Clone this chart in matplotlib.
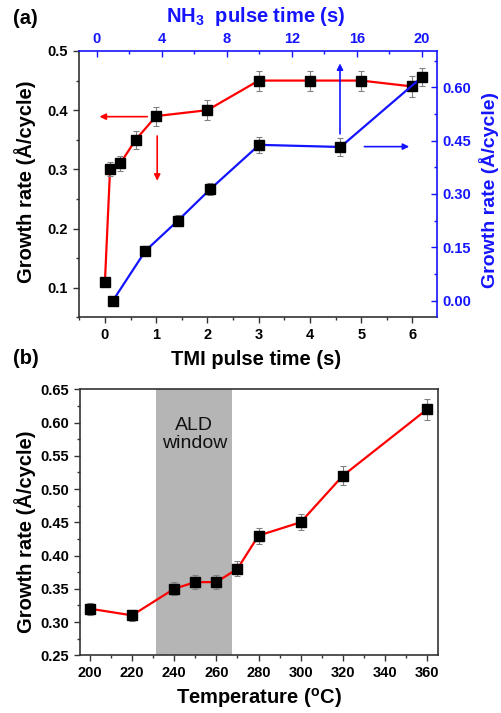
import matplotlib
matplotlib.use('Agg')
from matplotlib import pyplot as plt
from matplotlib.ticker import MultipleLocator

plt.rcParams['font.family'] = ['Liberation Sans', 'DejaVu Sans']
plt.rcParams['font.weight'] = 'bold'
plt.rcParams['mathtext.fontset'] = 'custom'
plt.rcParams['mathtext.rm'] = 'Liberation Sans:bold'
plt.rcParams['mathtext.it'] = 'Liberation Sans:bold'
plt.rcParams['mathtext.bf'] = 'Liberation Sans:bold'

# (a) growth rate vs TMI pulse time (left / bottom axes)
tmi_time = [0.0, 0.1, 0.3, 0.6, 1.0, 2.0, 3.0, 4.0, 5.0, 6.0]
tmi_rate = [0.11, 0.30, 0.31, 0.35, 0.39, 0.40, 0.45, 0.45, 0.45, 0.44]
tmi_err = [0.004, 0.012, 0.013, 0.015, 0.016, 0.017, 0.017, 0.017, 0.017, 0.017]

# (a) growth rate vs NH3 pulse time (right / top axes)
nh3_time = [1, 3, 5, 7, 10, 15, 20]
nh3_rate = [0.0, 0.14, 0.225, 0.314, 0.438, 0.432, 0.628]
nh3_err = [0.005, 0.013, 0.015, 0.018, 0.022, 0.024, 0.025]

# (b) growth rate vs temperature
temp = [200, 220, 240, 250, 260, 270, 280, 300, 320, 360]
temp_rate = [0.32, 0.31, 0.35, 0.36, 0.36, 0.38, 0.43, 0.45, 0.52, 0.62]
temp_err = [0.009, 0.008, 0.01, 0.01, 0.01, 0.011, 0.012, 0.012, 0.014, 0.016]
ald_window = (231.5, 267.5)

# arrows pointing to the axis each curve belongs to: (tail, head)
red_arrows = [((0.88, 0.389), (-0.16, 0.389)), ((1.02, 0.361), (1.02, 0.276))]
blue_arrows = [((14.97, 0.461), (14.97, 0.675)), ((16.3, 0.433), (19.4, 0.433))]

DARK = '#333333'
BLUE = '#1414ff'
TICK_FS = 10.5
LABEL_FS = 14.5


def style_ticks(axis, color, direction):
    axis.tick_params(which='both', direction=direction, colors=color, labelsize=TICK_FS, width=1)
    axis.tick_params(which='major', length=4.5)
    axis.tick_params(which='minor', length=2.5)


def draw_series(ax, x, y, err, color):
    ax.plot(x, y, color=color, lw=1.6, zorder=2)
    ax.errorbar(x, y, yerr=err, fmt='none', ecolor='#808080', elinewidth=0.8, capsize=2.5, capthick=0.8, zorder=3)
    ax.plot(x, y, 's', color='black', ms=7.5, zorder=4)


fig = plt.figure(figsize=(5.01, 7.13), dpi=100)

# ---- panel (a)
ax = fig.add_axes([0.1583, 0.555, 0.7140, 0.3735])
ax_r = ax.twinx()
ax_t = ax_r.twiny()

draw_series(ax, tmi_time, tmi_rate, tmi_err, 'red')
draw_series(ax_t, nh3_time, nh3_rate, nh3_err, BLUE)

for tail, head in red_arrows:
    ax.annotate('', xy=head, xytext=tail,
                arrowprops=dict(arrowstyle='-|>', color='red', lw=1.2, mutation_scale=9))
for tail, head in blue_arrows:
    ax_t.annotate('', xy=head, xytext=tail,
                  arrowprops=dict(arrowstyle='-|>', color=BLUE, lw=1.2, mutation_scale=9))

ax.set_xlim(-0.5, 6.48)
ax.set_ylim(0.05, 0.5)
ax.xaxis.set_major_locator(MultipleLocator(1))
ax.xaxis.set_minor_locator(MultipleLocator(0.5))
ax.yaxis.set_major_locator(MultipleLocator(0.1))
ax.yaxis.set_minor_locator(MultipleLocator(0.05))
style_ticks(ax, DARK, 'out')
ax.tick_params(labelcolor='black')

ax_r.set_ylim(-0.047, 0.702)
ax_r.yaxis.set_major_locator(MultipleLocator(0.15))
ax_r.yaxis.set_minor_locator(MultipleLocator(0.075))
ax_r.yaxis.set_major_formatter('{x:.2f}')
style_ticks(ax_r, BLUE, 'in')

ax_t.set_xlim(-1.07, 20.94)
ax_t.xaxis.set_major_locator(MultipleLocator(4))
ax_t.xaxis.set_minor_locator(MultipleLocator(2))
style_ticks(ax_t, BLUE, 'in')

for a in (ax, ax_r, ax_t):
    for s in a.spines.values():
        s.set_visible(False)
        s.set_linewidth(1.2)
ax.spines['left'].set(visible=True, color=DARK)
ax.spines['bottom'].set(visible=True, color=DARK)
ax_t.spines['top'].set(visible=True, color=BLUE)
ax_t.spines['right'].set(visible=True, color=BLUE)

ax.set_xlabel('TMI pulse time (s)', fontsize=LABEL_FS, fontweight='bold')
ax.xaxis.label.set_va('center')
ax.xaxis.set_label_coords(0.494, -0.160)
ax.set_ylabel('Growth rate (Å/cycle)', fontsize=LABEL_FS, fontweight='bold')
ax.yaxis.label.set_va('center')
ax.yaxis.set_label_coords(-0.152, 0.509)
ax_r.set_ylabel('Growth rate (Å/cycle)', fontsize=14, fontweight='bold', color=BLUE, rotation=90)
ax_r.yaxis.label.set_va('center')
ax_r.yaxis.set_label_coords(1.145, 0.478)
ax_t.set_xlabel('NH$_3$  pulse time (s)', fontsize=LABEL_FS, fontweight='bold', color=BLUE)
ax_t.xaxis.label.set_va('center')
ax_t.xaxis.set_label_coords(0.494, 1.128)

# ---- panel (b)
bx = fig.add_axes([0.1597, 0.081, 0.7139, 0.373])
bx.axvspan(*ald_window, color='#b5b5b5', lw=0, zorder=0)
draw_series(bx, temp, temp_rate, temp_err, 'red')
bx.text(sum(ald_window) / 2, 0.582, 'ALD\nwindow', ha='center', va='center',
        fontsize=14, fontweight='normal', color='#111111', linespacing=1.1)
bx.set_xlim(195.3, 365)
bx.set_ylim(0.25, 0.65)
bx.xaxis.set_major_locator(MultipleLocator(20))
bx.xaxis.set_minor_locator(MultipleLocator(10))
bx.yaxis.set_major_locator(MultipleLocator(0.05))
bx.yaxis.set_minor_locator(MultipleLocator(0.025))
bx.yaxis.set_major_formatter('{x:.2f}')
style_ticks(bx, DARK, 'out')
bx.tick_params(labelcolor='black')
for s in bx.spines.values():
    s.set(color=DARK, linewidth=1.2)
bx.set_xlabel('Temperature ($^{o}$C)', fontsize=LABEL_FS, fontweight='bold')
bx.xaxis.label.set_va('center')
bx.xaxis.set_label_coords(0.50, -0.161)
bx.set_ylabel('Growth rate (Å/cycle)', fontsize=LABEL_FS, fontweight='bold')
bx.yaxis.label.set_va('center')
bx.yaxis.set_label_coords(-0.154, 0.465)

fig.text(25 / 501, 1 - 18 / 713, '(a)', fontsize=LABEL_FS, fontweight='bold', ha='center', va='center')
fig.text(26 / 501, 1 - 358 / 713, '(b)', fontsize=LABEL_FS, fontweight='bold', ha='center', va='center')

fig.savefig('out.png', dpi=100)
plt.close(fig)
